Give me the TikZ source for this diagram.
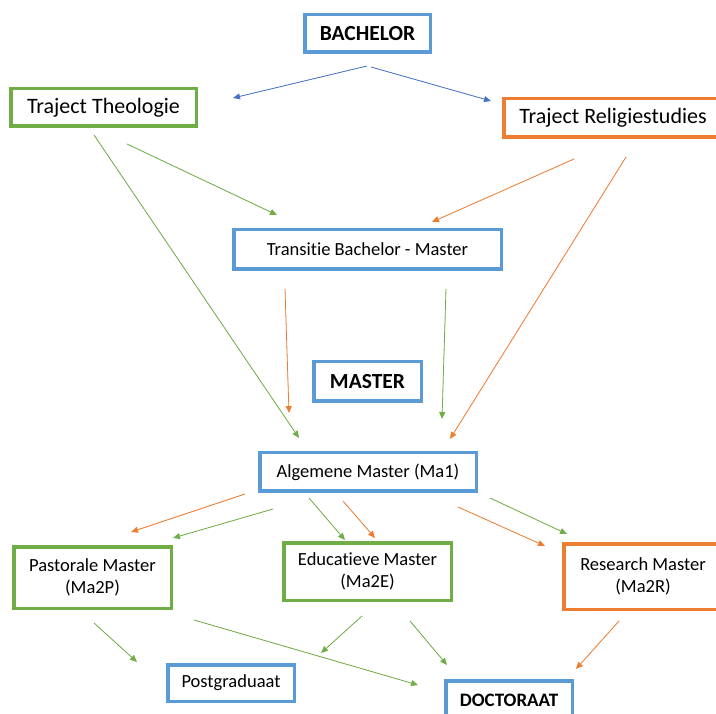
\documentclass[tikz,border=0pt]{standalone}
\usepackage{fontspec}
\setmainfont{Carlito}[Ligatures=NoCommon]
\usetikzlibrary{arrows.meta}
\definecolor{boxblue}{HTML}{5B9BD5}
\definecolor{boxgreen}{HTML}{70AD47}
\definecolor{boxorange}{HTML}{ED7D31}
\definecolor{lineblue}{HTML}{4472C4}
\tikzset{
box/.style={
    draw, rectangle, line width=3.5pt, fill=white,
    inner sep=0pt, text=black, align=center,
    font=\fontsize{18.5}{22}\selectfont
  },
bluebox/.style={box, draw=boxblue},
greenbox/.style={box, draw=boxgreen},
orangebox/.style={box, draw=boxorange},
bigtext/.style={font=\fontsize{22}{26}\selectfont},
headtext/.style={font=\bfseries\fontsize{21.5}{26}\selectfont}
}

\begin{document}
\begin{tikzpicture}[x=1pt, y=-1pt,
 link/.style={line width=0.8pt, -{Triangle[length=7pt,width=6pt]}},
 bluelink/.style={link, draw=lineblue, fill=lineblue},
 greenlink/.style={link, draw=boxgreen, fill=boxgreen},
 orangelink/.style={link, draw=boxorange, fill=boxorange}
  ]
\useasboundingbox (0,0) rectangle (716,714);
\clip (0,0) rectangle (716,714);

% bachelor
\node[bluebox, headtext, minimum width=125.5pt, minimum height=37.5pt] (bachelor) at (367.5,33.5) {BACHELOR};
\node[greenbox, bigtext, minimum width=185.5pt, minimum height=37.5pt] (theo) at (103.5,107.5) {Traject Theologie};
\node[orangebox, bigtext, minimum width=218.5pt, minimum height=38.5pt] (relig) at (613,118) {Traject Religiestudies};
\node[bluebox, minimum width=267.5pt, minimum height=39.5pt] (trans) at (367.5,249.5) {Transitie Bachelor - Master};

% master
\node[bluebox, headtext, minimum width=107.5pt, minimum height=39.5pt] (master) at (367.5,381.5) {MASTER};
\node[bluebox, minimum width=216.5pt, minimum height=38.5pt] (ma1) at (368,472) {Algemene Master (Ma1)};
\node[greenbox, minimum width=157.5pt, minimum height=61.5pt] (ma2p) at (92.5,577.5) {Pastorale Master\\(Ma2P)};
\node[greenbox, minimum width=167.5pt, minimum height=57.5pt] (ma2e) at (367.5,571.5) {Educatieve Master\\(Ma2E)};
\node[orangebox, minimum width=158.5pt, minimum height=65.5pt] (ma2r) at (643,576.5) {Research Master\\(Ma2R)};

% na de master
\node[bluebox, minimum width=126.5pt, minimum height=36.5pt] (postgr) at (231,683) {Postgraduaat};
\node[bluebox, font=\bfseries\fontsize{19}{22}\selectfont, minimum width=126.5pt, minimum height=38.5pt] (doc) at (509,700) {DOCTORAAT};

% begin- en eindpunten van de pijlen
\coordinate (bachL) at (367,66);   \coordinate (theoIn) at (233,98);
\coordinate (bachR) at (371,67);   \coordinate (religIn) at (491,101);
\coordinate (theoA) at (94,135);   \coordinate (ma1InA) at (299,438);
\coordinate (theoB) at (127,144);  \coordinate (transInG) at (277,215);
\coordinate (religA) at (574,159); \coordinate (transInO) at (432,222);
\coordinate (religB) at (626,157); \coordinate (ma1InD) at (450,439);
\coordinate (transO) at (285,289); \coordinate (ma1InB) at (289,413);
\coordinate (transG) at (446,289); \coordinate (ma1InC) at (442,419);
\coordinate (ma1A) at (245,494);   \coordinate (ma2pInO) at (131,532);
\coordinate (ma1B) at (273,509);   \coordinate (ma2pInG) at (173,538);
\coordinate (ma1C) at (309,498);   \coordinate (ma2eInG) at (345,540);
\coordinate (ma1D) at (343,501);   \coordinate (ma2eInO) at (375,538);
\coordinate (ma1E) at (458,507);   \coordinate (ma2rInO) at (545,546);
\coordinate (ma1F) at (490,498);   \coordinate (ma2rInG) at (567,534);
\coordinate (ma2pA) at (94,623);   \coordinate (postgrInP) at (137,662);
\coordinate (ma2pB) at (194,620);  \coordinate (docInP) at (418,685);
\coordinate (ma2eA) at (362,616);  \coordinate (postgrInE) at (321,653);
\coordinate (ma2eB) at (410,621);  \coordinate (docInE) at (447,665);
\coordinate (ma2rA) at (619,621);  \coordinate (docInR) at (576,669);

\draw[bluelink] (bachL) -- (theoIn);
\draw[bluelink] (bachR) -- (religIn);
\draw[greenlink] (theoA) -- (ma1InA);
\draw[greenlink] (theoB) -- (transInG);
\draw[orangelink] (religA) -- (transInO);
\draw[orangelink] (religB) -- (ma1InD);
\draw[orangelink] (transO) -- (ma1InB);
\draw[greenlink] (transG) -- (ma1InC);
\draw[orangelink] (ma1A) -- (ma2pInO);
\draw[greenlink] (ma1B) -- (ma2pInG);
\draw[greenlink] (ma1C) -- (ma2eInG);
\draw[orangelink] (ma1D) -- (ma2eInO);
\draw[orangelink] (ma1E) -- (ma2rInO);
\draw[greenlink] (ma1F) -- (ma2rInG);
\draw[greenlink] (ma2pA) -- (postgrInP);
\draw[greenlink] (ma2pB) -- (docInP);
\draw[greenlink] (ma2eA) -- (postgrInE);
\draw[greenlink] (ma2eB) -- (docInE);
\draw[orangelink] (ma2rA) -- (docInR);
\end{tikzpicture}
\end{document}
